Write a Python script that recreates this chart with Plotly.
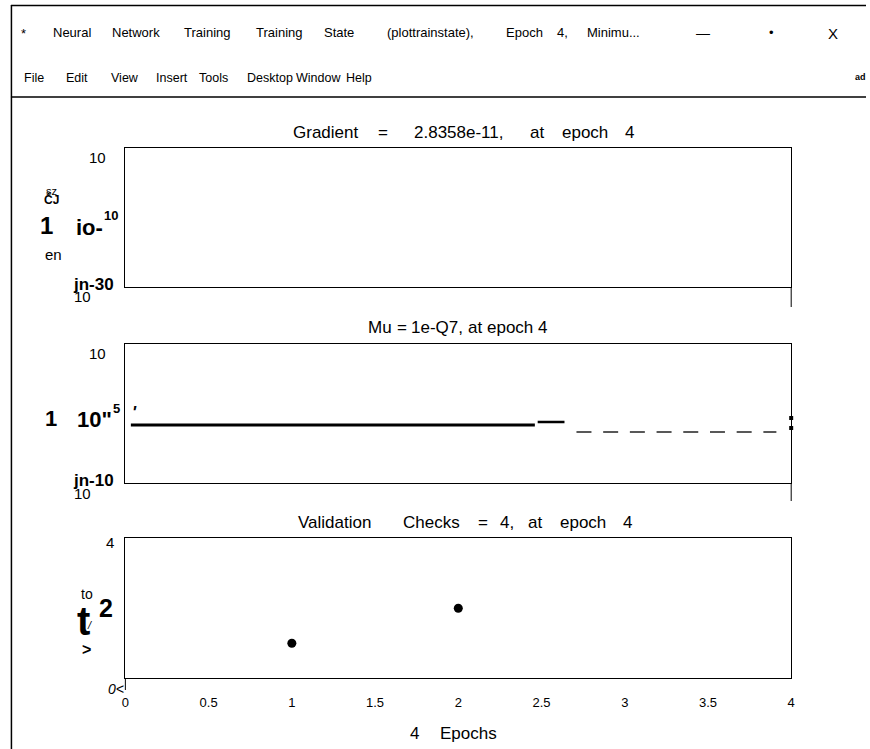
import plotly.graph_objects as go

W, H = 870, 749
FONT = "Liberation Sans, Arial, sans-serif"

# ---------------- data ----------------
panel_titles = ["Gradient = 2.8358e-11, at epoch 4",
                "Mu = 1e-Q7, at epoch 4",
                "Validation Checks = 4, at epoch 4"]
window_title = "Neural Network Training Training State (plottrainstate), Epoch 4, Minimu..."
menu_items = ["File", "Edit", "View", "Insert", "Tools", "Desktop", "Window", "Help"]
x_title = "4 Epochs"

# Mu panel (y = log10(mu))
mu_solid_x = [0.033, 2.46]
mu_solid_y = [-1.66, -1.66]
mu_step_x = [2.477, 2.638]
mu_step_y = [-1.23, -1.23]
mu_dash_x = [2.71, 3.911]
mu_dash_y = [-2.66, -2.66]
mu_end_x = [4.0, 4.0]
mu_end_y = [-0.66, -2.09]

# Validation checks
val_epochs = [1, 2]
val_checks = [1, 2]

x_ticks = [0, 0.5, 1, 1.5, 2, 2.5, 3, 3.5, 4]

# Arial advance widths (1/1000 em) used to spread letter-spaced texts
_AW = {' ': 278, '(': 333, ')': 333, ',': 278, '-': 333, '.': 278, '=': 584,
       'A': 667, 'C': 722, 'E': 667, 'G': 778, 'M': 833, 'N': 722, 'Q': 778,
       'S': 667, 'T': 611, 'V': 667, 'a': 556, 'c': 500, 'd': 556, 'e': 556,
       'g': 556, 'h': 556, 'i': 222, 'k': 500, 'l': 222, 'm': 833, 'n': 556,
       'o': 556, 'p': 556, 'r': 333, 's': 500, 't': 278, 'u': 556, 'w': 722}


def aw(s):
    return sum(_AW.get(c, 556) for c in s) / 1000.0


def px(x):
    return x / W


def py(y):
    return 1 - y / H


XL, XR = 122.5, 794.5
panels = [(148, 287.3), (343.5, 483.3), (538.3, 678.3)]

fig = go.Figure()

fig.add_trace(go.Scatter(x=mu_solid_x, y=mu_solid_y, mode="lines",
                         line=dict(color="black", width=3), xaxis="x2", yaxis="y2"))
fig.add_trace(go.Scatter(x=mu_step_x, y=mu_step_y, mode="lines",
                         line=dict(color="black", width=2.5), xaxis="x2", yaxis="y2"))
fig.add_trace(go.Scatter(x=mu_dash_x, y=mu_dash_y, mode="lines",
                         line=dict(color="#222222", width=1.5, dash="15px,11.7px"),
                         xaxis="x2", yaxis="y2"))
fig.add_trace(go.Scatter(x=mu_end_x, y=mu_end_y, mode="markers", cliponaxis=False,
                         marker=dict(color="black", size=4, symbol="square"),
                         xaxis="x2", yaxis="y2"))
fig.add_trace(go.Scatter(x=val_epochs, y=val_checks, mode="markers", cliponaxis=False,
                         marker=dict(color="black", size=9), xaxis="x3", yaxis="y3"))
fig.add_trace(go.Scatter(x=[None], y=[None], xaxis="x", yaxis="y"))

axis_common = dict(showline=True, mirror=True, linecolor="black", linewidth=1,
                   showgrid=False, zeroline=False, ticks="")
layout = dict(width=W, height=H, margin=dict(l=0, r=0, t=0, b=0),
              paper_bgcolor="white", plot_bgcolor="white", showlegend=False,
              font=dict(family=FONT, color="black"))
yranges = [[-30, 10], [-10, 10], [0, 4]]
for i, (top, bot) in enumerate(panels):
    sfx = "" if i == 0 else str(i + 1)
    xa = dict(axis_common, domain=[px(XL), px(XR)], range=[0, 4],
              anchor="y" + sfx, showticklabels=(i == 2))
    if i == 2:
        xa.update(tickvals=x_ticks, ticktext=[("%g" % v) for v in x_ticks],
                  tickfont=dict(size=13, family=FONT), ticklabelstandoff=12)
    ya = dict(axis_common, domain=[py(bot), py(top)], range=yranges[i],
              anchor="x" + sfx, showticklabels=False)
    layout["xaxis" + sfx] = xa
    layout["yaxis" + sfx] = ya
fig.update_layout(**layout)

shapes = []


def vline(x, y0, y1, w=1):
    shapes.append(dict(type="line", xref="paper", yref="paper", x0=px(x), x1=px(x),
                       y0=py(y0), y1=py(y1), line=dict(color="black", width=w)))


def hline(y, x0, x1, w=1):
    shapes.append(dict(type="line", xref="paper", yref="paper", x0=px(x0), x1=px(x1),
                       y0=py(y), y1=py(y), line=dict(color="black", width=w)))


vline(7.5, 5, 749, 1.5)
hline(5.5, 7, 870, 1.5)
hline(97, 7, 870, 1.5)
vline(XR, 287.3, 307)
vline(XR, 483.3, 501)
vline(XL, 678.3, 690)
fig.update_layout(shapes=shapes)

ann = []


def text(t, x, y, size=13, anchor="center", bold=False, italic=False):
    s = t
    if bold:
        s = "<b>" + s + "</b>"
    if italic:
        s = "<i>" + s + "</i>"
    ann.append(dict(text=s, x=px(x), y=py(y), xref="paper", yref="paper",
                    xanchor=anchor, yanchor="middle", showarrow=False,
                    font=dict(size=size, family=FONT, color="black")))


def spread(t, x0, x1, y, size):
    """Place a letter-spaced text word by word between x0 and x1."""
    n = len(t)
    ls = (x1 - x0 - size * aw(t)) / max(n - 1, 1)
    i = 0
    for w in t.split(" "):
        start = x0 + size * aw(t[:i]) + ls * i
        wl = size * aw(w) + ls * (len(w) - 1)
        text(w, start + wl / 2, y, size)
        i += len(w) + 1


# window title bar and menu
text("*", 20, 34, 13)
spread(window_title, 43, 651, 33, 13)
text("—", 705, 33, 14)
text("•", 775, 33, 13)
text("X", 837, 34, 15)
menu_x = [18, 61, 106, 151, 195, 243, 293, 343]
for m, mx in zip(menu_items, menu_x):
    text(m, mx, 78, 12.5, anchor="left")
text("ad", 864, 77, 9, bold=True)

# panel titles
title_spans = [(281, 636), (368, 548), (283, 634)]
title_y = [132, 327, 522]
for t, (a, b), ty in zip(panel_titles, title_spans, title_y):
    spread(t, a, b, ty, 17)

# panel 1 y labels (as they appear)
text("10", 94, 158, 15)
text("sz", 48, 191, 11)
text("ČJ", 48, 199, 12, bold=True)
text("1", 43, 225, 24, bold=True)
text("io-", 86, 227, 22, bold=True)
text("10", 108, 215, 13, bold=True)
text("en", 50, 255, 15)
text("jn-30", 90, 284, 17, bold=True)
text("10", 79, 296, 15)

# panel 2 y labels
text("10", 94, 353, 15)
text("1", 47, 418, 22, bold=True)
text('10"', 91, 419, 22, bold=True)
text("5", 114, 408, 13, bold=True)
text("'", 132, 413, 17, bold=True, italic=True)
text("jn-10", 90, 480, 17, bold=True)
text("10", 79, 493, 15)

# panel 3 y labels
text("4", 107, 542, 15)
text("to", 84, 594, 14)
text("2", 103, 608, 25, bold=True)
text("t", 80, 621, 40, bold=True)
text("/", 86, 625, 11, italic=True)
text(">", 83, 649, 16, bold=True)
text("0<", 113, 689, 14, italic=True)

# x axis title
spread(x_title, 410, 506, 733, 17)

fig.update_layout(annotations=ann)
fig.write_html("out.html", config={"displayModeBar": False},
               post_script="document.body.style.margin='0px';")
